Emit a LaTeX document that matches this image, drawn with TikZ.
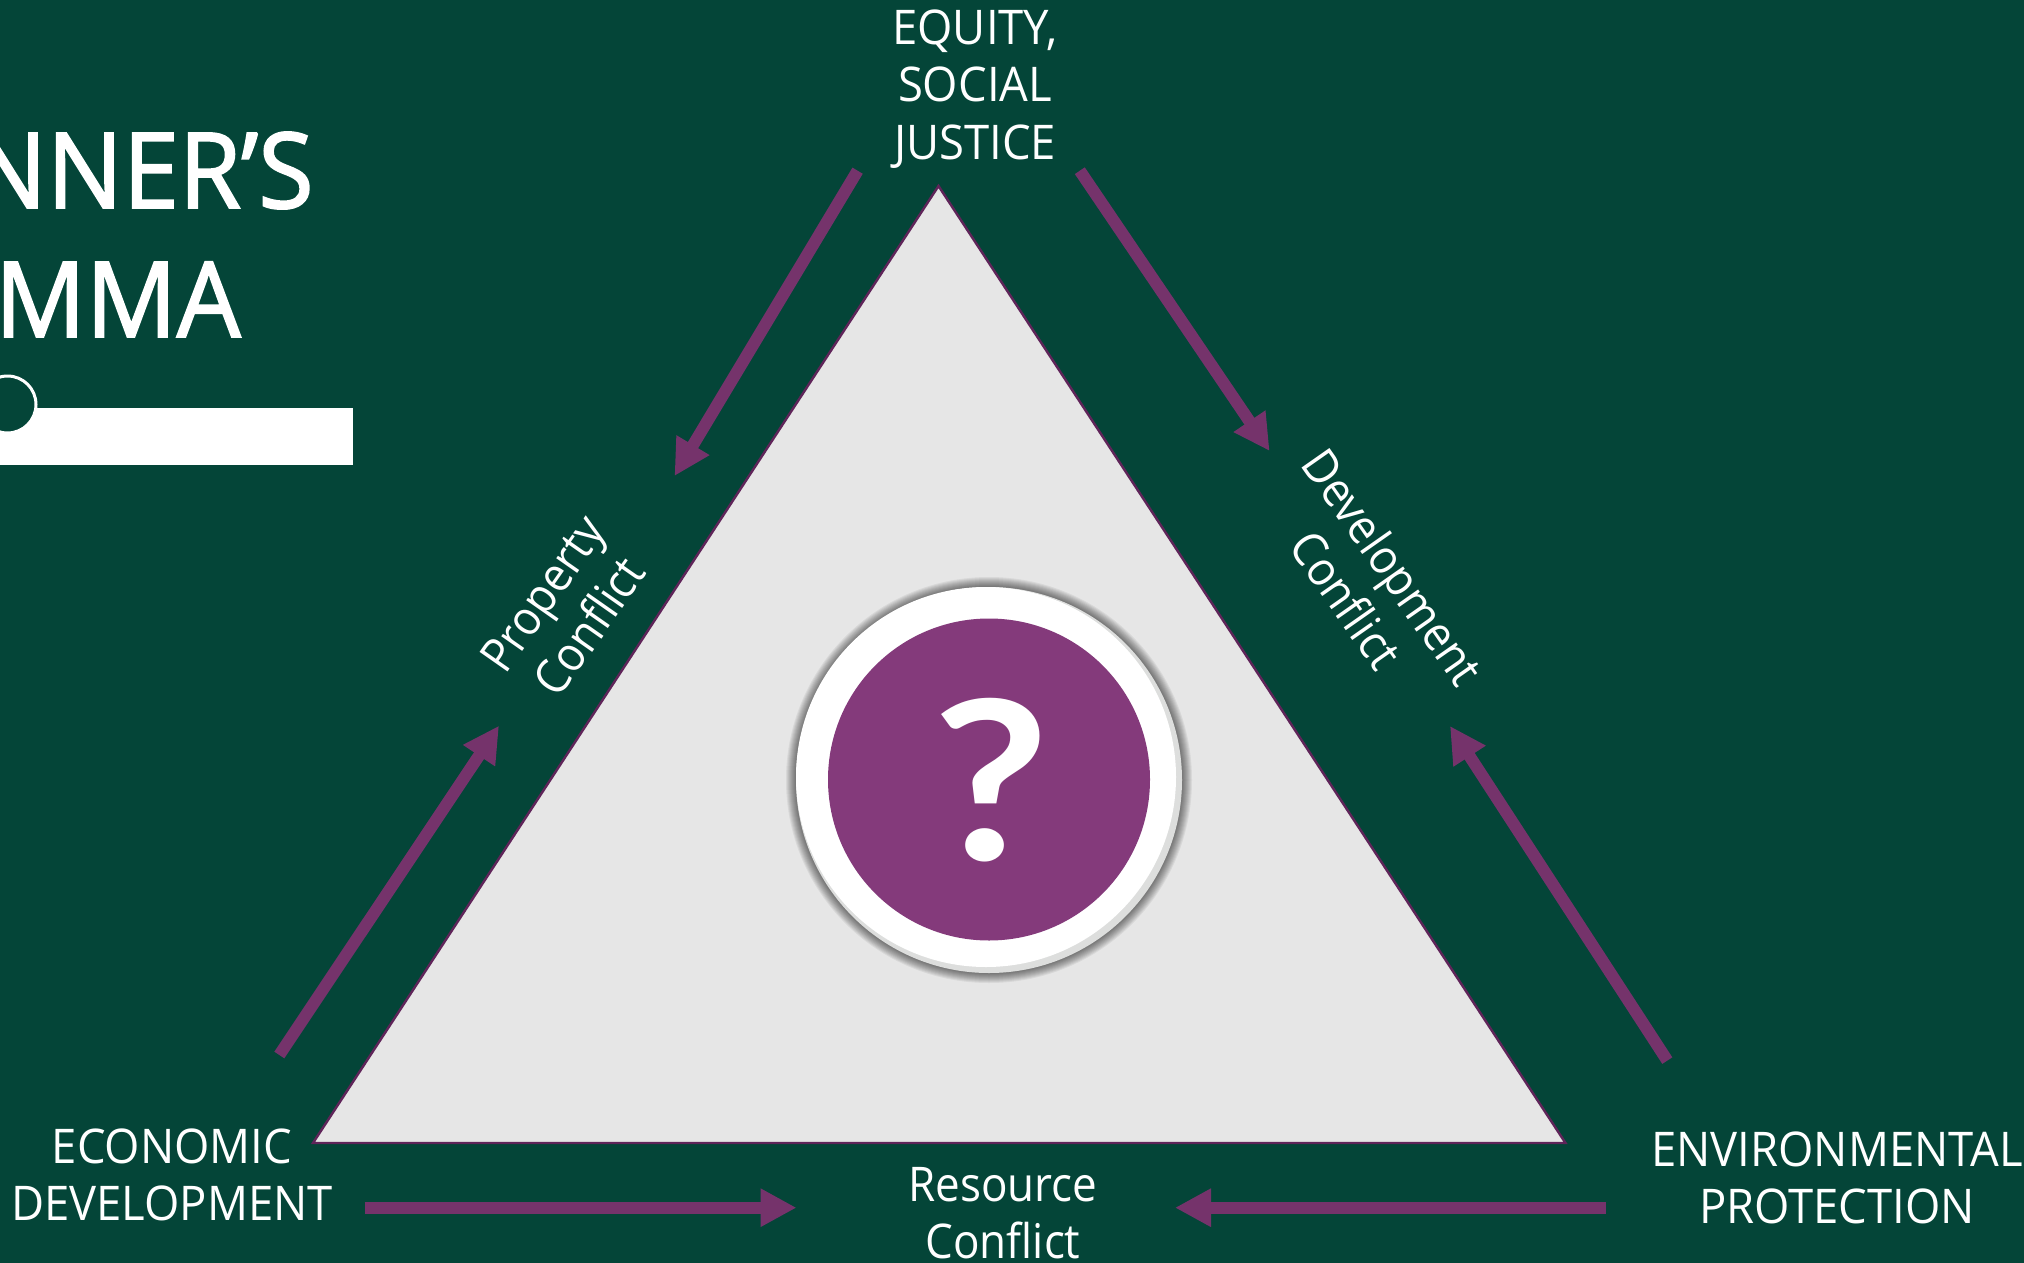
\documentclass[tikz,border=0pt]{standalone}
\usepackage{fontspec}
\setmainfont{Open Sans}[FakeStretch=0.92]
\newfontfamily\capsfont{Open Sans}[FakeStretch=0.95]
\newfontfamily\ttlfont{Open Sans}[FakeStretch=0.96,FakeBold=1.8]
\newfontfamily\qfont{Lato}[FakeStretch=1.15]
\usetikzlibrary{arrows.meta}
\definecolor{bgc}{HTML}{044538}
\definecolor{arrowc}{HTML}{75336B}
\definecolor{edgec}{HTML}{5F2459}
\definecolor{triface}{HTML}{E6E6E6}
\definecolor{discc}{HTML}{843A7B}
\definecolor{rimc}{HTML}{DDDEDD}
\tikzset{
  x=0.5pt,y=-0.5pt,
  flow/.style={draw=arrowc,line width=6pt,-{Triangle[length=18pt,width=18pt]}},
  lab/.style={text=white,inner sep=0pt,align=center,font=\fontsize{23.9}{28.75}\selectfont},
  caplab/.style={lab,font=\capsfont\fontsize{23.9}{28.75}\selectfont},
  ttl/.style={text=white,inner sep=0pt,anchor=base east,font=\ttlfont\fontsize{52.5}{60}\selectfont},
}
\begin{document}
\begin{tikzpicture}
\useasboundingbox (0,0) rectangle (2024,1263);
\clip (0,0) rectangle (2024,1263);
\fill[bgc] (0,0) rectangle (2024,1263);
% triangle
\draw[edgec,fill=triface,line width=1.2pt,miter limit=10] (938.5,186) -- (1565.5,1143) -- (313,1143) -- cycle;
% title
\node[ttl] (t1) at (314,208) {NNER’S};
\node[ttl] (t2) at (241,337) {MMA};
\fill[white] (-5,408) rectangle (353,465);
\draw[white,fill=bgc,line width=1.5pt] (7.5,404.5) circle (28.5);
% badge
\foreach \r in {203,202,...,194}{\fill[black,opacity=0.06] (989,780) circle (\r);}
\fill[rimc] (989,780) circle (193);
\fill[white] (986,777) circle (190);
\fill[discc] (989,779.5) circle (161);
\node[text=white,inner sep=0pt,font=\qfont\bfseries\fontsize{111}{120}\selectfont] (q) at (991,780) {?};
% labels
\node[caplab] (eq) at (975,89) {EQUITY,\\SOCIAL\\JUSTICE};
\node[caplab] (ec) at (172,1175) {ECONOMIC\\DEVELOPMENT};
\node[caplab] (en) at (1837,1178) {ENVIRONMENTAL\\PROTECTION};
\node[lab] (re) at (1003,1213) {Resource\\Conflict};
\node[lab,rotate=55] (pr) at (566,610) {Property\\Conflict};
\node[lab,rotate=-55] (de) at (1370,583) {Development\\Conflict};
% arrows
\coordinate (a1) at (857.6,170.7); \coordinate (a2) at (674.5,476);
\coordinate (b1) at (1079.8,170.7); \coordinate (b2) at (1269.6,451);
\coordinate (c1) at (279.3,1055); \coordinate (c2) at (499,725.7);
\coordinate (d1) at (1667.3,1060.6); \coordinate (d2) at (1450,726);
\coordinate (e1) at (364.5,1207.7); \coordinate (e2) at (796.5,1207.7);
\coordinate (f1) at (1606,1207.7); \coordinate (f2) at (1175,1207.7);
\draw[flow] (a1) -- (a2);
\draw[flow] (b1) -- (b2);
\draw[flow] (c1) -- (c2);
\draw[flow] (d1) -- (d2);
\draw[flow] (e1) -- (e2);
\draw[flow] (f1) -- (f2);
\end{tikzpicture}
\end{document}
